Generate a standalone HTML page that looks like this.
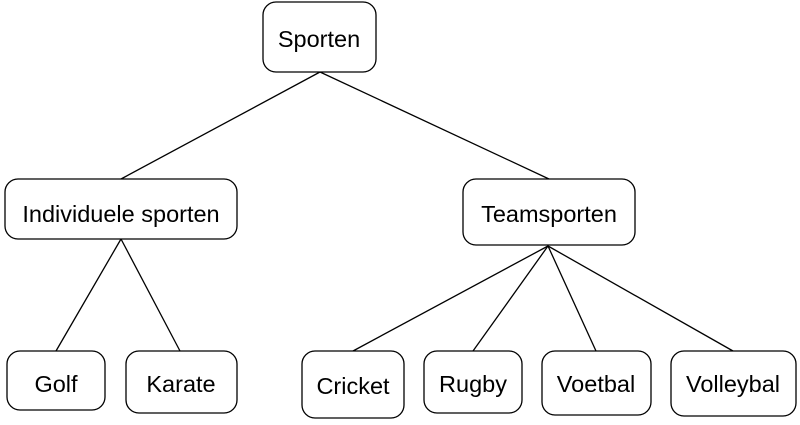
<!DOCTYPE html>
<html><head><style>
body{margin:0;background:#fff;width:800px;height:420px;overflow:hidden}
svg text{font-family:"Liberation Sans",Arial,sans-serif;font-size:23.5px;fill:#000}
</style></head><body>
<svg width="800" height="420" viewBox="0 0 800 420">
<g stroke="#000" stroke-width="1.3" fill="none">
<line x1="320" y1="72" x2="121" y2="179"/>
<line x1="320" y1="72" x2="549" y2="179"/>
<line x1="121" y1="239" x2="56" y2="351"/>
<line x1="121" y1="239" x2="180" y2="351"/>
<line x1="548" y1="246" x2="353" y2="351"/>
<line x1="548" y1="246" x2="473" y2="351"/>
<line x1="548" y1="246" x2="596" y2="351"/>
<line x1="548" y1="246" x2="733" y2="351"/>
</g>
<g stroke="#000" stroke-width="1.3" fill="#fff">
<rect x="263" y="2" width="113" height="70" rx="13"/>
<rect x="5" y="179" width="232" height="60" rx="13"/>
<rect x="463" y="179" width="172" height="66" rx="13"/>
<rect x="7" y="351" width="98" height="59" rx="13"/>
<rect x="126" y="351" width="111" height="62" rx="13"/>
<rect x="302" y="351" width="102" height="67" rx="13"/>
<rect x="424" y="351" width="98" height="62" rx="13"/>
<rect x="542" y="351" width="109" height="64" rx="13"/>
<rect x="671" y="351" width="125" height="65" rx="13"/>
</g>
<g text-anchor="middle">
<text x="319" y="47">Sporten</text>
<text x="121" y="222">Individuele sporten</text>
<text x="549" y="222">Teamsporten</text>
<text x="56" y="392">Golf</text>
<text x="181" y="392">Karate</text>
<text x="353" y="394">Cricket</text>
<text x="473" y="392">Rugby</text>
<text x="596" y="392">Voetbal</text>
<text x="733" y="392">Volleybal</text>
</g>
</svg>
</body></html>
